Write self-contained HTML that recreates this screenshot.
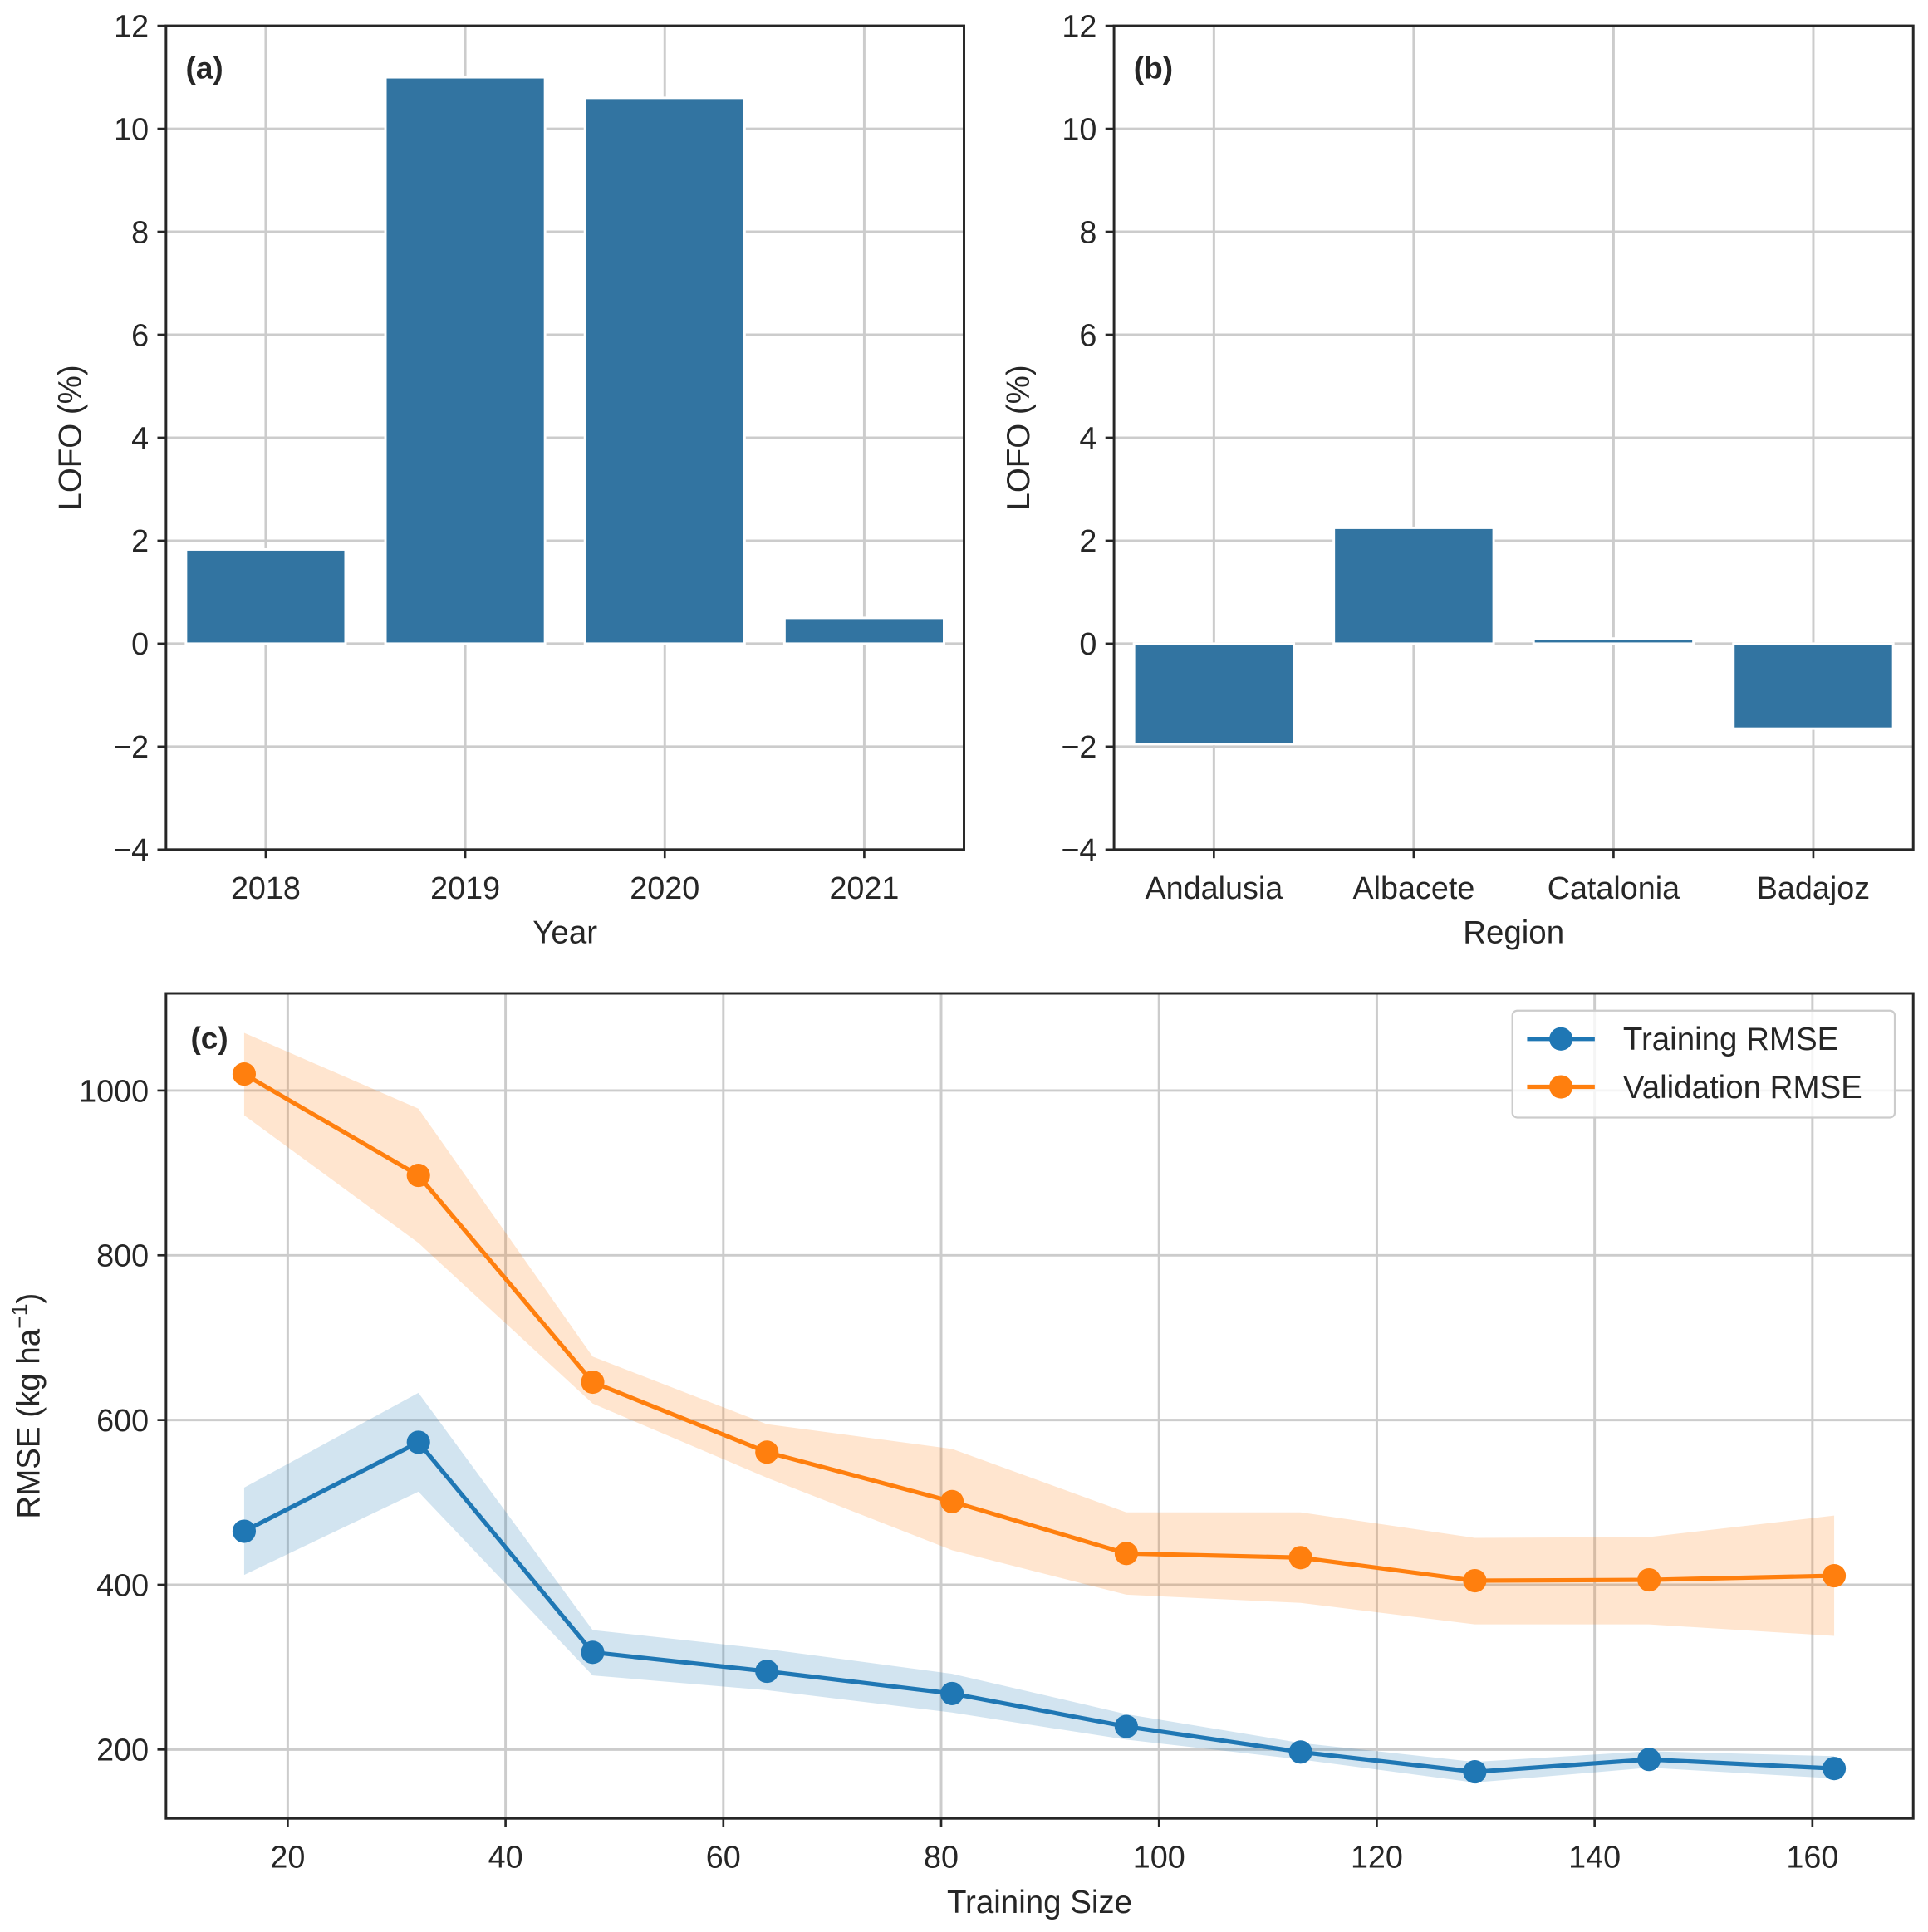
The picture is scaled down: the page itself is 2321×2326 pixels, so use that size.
<!DOCTYPE html>
<html><head><meta charset="utf-8"><style>
html,body{margin:0;padding:0;background:#fff}
svg{display:block;font-family:"Liberation Sans",sans-serif}
</style></head><body>
<svg id="fig0" width="2321" height="2326" viewBox="0 0 1568 1571.4" xmlns="http://www.w3.org/2000/svg"><g id="fig" transform="translate(0,2)"></g></svg>
<script>
const yearCats=["2018","2019","2020","2021"];
const yearVals=[1.83,11.0,10.6,0.5];
const regionCats=["Andalusia","Albacete","Catalonia","Badajoz"];
const regionVals=[-1.95,2.25,0.1,-1.65];
const lofoTicks=[-4,-2,0,2,4,6,8,10,12];
const sizes=[16,32,48,64,81,97,113,129,145,162];
const trainRmse=[465,573,318,295,268,228,197,173,188,177];
const trainHi=[518,633,345,322,292,243,208,185,198,192];
const trainLo=[412,513,290,272,245,212,188,160,178,165];
const valRmse=[1020,897,646,561,501,438,433,405,406,411];
const valHi=[1070,978,677,595,565,488,488,457,458,484];
const valLo=[970,815,620,530,442,388,378,352,352,338];
const xTicksC=[20,40,60,80,100,120,140,160];
const yTicksC=[200,400,600,800,1000];

const svg=document.getElementById('fig');
const NS="http://www.w3.org/2000/svg";
const TF=25.5;
function mk(tag,attrs,parent){const e=document.createElementNS(NS,tag);for(const k in attrs)e.setAttribute(k,attrs[k]);(parent||svg).appendChild(e);return e;}
function txt(s,attrs,parent){const e=mk('text',attrs,parent);e.textContent=s;return e;}

function barPanel(x0,x1,cats,vals,letter,xlabel,name){
  const g=mk('g',{});
  
  
  const y0=19,y1=689;
  const ys=v=>y0+(12-v)/16*(y1-y0);
  const step=(x1-x0)/4;
  const xs=i=>x0+step*(i+0.5);
  lofoTicks.forEach(t=>{
    const gl=mk('line',{x1:x0,x2:x1,y1:ys(t),y2:ys(t),stroke:'#cccccc','stroke-width':2},g);
    
    
    mk('line',{x1:x0-7,x2:x0,y1:ys(t),y2:ys(t),stroke:'#262626','stroke-width':1.8},g);
    const tl=txt((t<0?'\u2212'+(-t):String(t)),{x:x0-14,y:ys(t)+9,'font-size':TF,'text-anchor':'end',fill:'#262626'},g);
    
    
  });
  cats.forEach((c,i)=>{
    const gl=mk('line',{x1:xs(i),x2:xs(i),y1:y0,y2:y1,stroke:'#cccccc','stroke-width':2},g);
    
    
  });
  cats.forEach((c,i)=>{
    const bw=step*0.8;
    const top=ys(Math.max(vals[i],0)),bot=ys(Math.min(vals[i],0));
    const b=mk('rect',{x:xs(i)-bw/2,y:top,width:bw,height:Math.max(bot-top,0.5),fill:'#3274a1',stroke:'#fff','stroke-width':2},g);
    
    
    mk('line',{x1:xs(i),x2:xs(i),y1:y1,y2:y1+7,stroke:'#262626','stroke-width':1.8},g);
    const tl=txt(c,{x:xs(i),y:y1+40,'font-size':TF,'text-anchor':'middle',fill:'#262626'},g);
    
    
  });
  const fr=mk('rect',{x:x0,y:y0,width:x1-x0,height:y1-y0,fill:'none',stroke:'#262626','stroke-width':2},g);
  
  
  const pl=txt(letter,{x:x0+16,y:y0+43,'font-size':25,'font-weight':'bold',fill:'#262626'},g);
  
  
  const xl=txt(xlabel,{x:(x0+x1)/2,y:y1+76,'font-size':26,'text-anchor':'middle',fill:'#262626'},g);
  
  
  const yl=txt('LOFO (%)',{x:0,y:0,'font-size':26,'text-anchor':'middle',fill:'#262626',transform:`translate(${x0-69},${(y0+y1)/2}) rotate(-90)`},g);
  
  
}
barPanel(135,784,yearCats,yearVals,'(a)','Year','panel-a-year');
barPanel(906,1556,regionCats,regionVals,'(b)','Region','panel-b-region');

const gc=mk('g',{});


const cx0=135,cx1=1556,cy0=806,cy1=1477;
const xc=v=>234+(v-20)*(1474-234)/140;
const yc=v=>1421-(v-200)*(1421-885)/800;
yTicksC.forEach(t=>{
  const gl=mk('line',{x1:cx0,x2:cx1,y1:yc(t),y2:yc(t),stroke:'#cccccc','stroke-width':2},gc);
  
  
  mk('line',{x1:cx0-7,x2:cx0,y1:yc(t),y2:yc(t),stroke:'#262626','stroke-width':1.8},gc);
  const tl=txt(String(t),{x:cx0-14,y:yc(t)+9,'font-size':TF,'text-anchor':'end',fill:'#262626'},gc);
  
  
});
xTicksC.forEach(t=>{
  const gl=mk('line',{x1:xc(t),x2:xc(t),y1:cy0,y2:cy1,stroke:'#cccccc','stroke-width':2},gc);
  
  
  mk('line',{x1:xc(t),x2:xc(t),y1:cy1,y2:cy1+7,stroke:'#262626','stroke-width':1.8},gc);
  const tl=txt(String(t),{x:xc(t),y:cy1+40,'font-size':TF,'text-anchor':'middle',fill:'#262626'},gc);
  
  
});
function band(hi,lo,color,name){
  let d='M'+sizes.map((s,i)=>xc(s)+','+yc(hi[i])).join('L');
  d+='L'+sizes.map((s,i)=>xc(s)+','+yc(lo[i])).reverse().join('L')+'Z';
  const p=mk('path',{d:d,fill:color,'fill-opacity':0.2,stroke:'none'},gc);
  
  
}
function series(vals,color,name){
  const p=mk('polyline',{points:sizes.map((s,i)=>xc(s)+','+yc(vals[i])).join(' '),fill:'none',stroke:color,'stroke-width':3.5},gc);
  
  
  sizes.forEach((s,i)=>{
    const c=mk('circle',{cx:xc(s),cy:yc(vals[i]),r:9.5,fill:color},gc);
    
    
  });
}
band(trainHi,trainLo,'#1f77b4','training-band');
band(valHi,valLo,'#ff7f0e','validation-band');
series(trainRmse,'#1f77b4','training-rmse');
series(valRmse,'#ff7f0e','validation-rmse');
const frc=mk('rect',{x:cx0,y:cy0,width:cx1-cx0,height:cy1-cy0,fill:'none',stroke:'#262626','stroke-width':2},gc);


const plc=txt('(c)',{x:cx0+20,y:cy0+45,'font-size':25,'font-weight':'bold',fill:'#262626'},gc);


const xlc=txt('Training Size',{x:(cx0+cx1)/2,y:cy1+77,'font-size':26,'text-anchor':'middle',fill:'#262626'},gc);


const ylc=mk('text',{x:0,y:0,'font-size':26,'text-anchor':'middle',fill:'#262626',transform:`translate(${cx0-103},${(cy0+cy1)/2}) rotate(-90)`},gc);


ylc.innerHTML='RMSE (kg ha<tspan dy="-10" font-size="18">\u22121</tspan><tspan dy="10">)</tspan>';
const lg=mk('g',{},gc);


mk('rect',{x:1230,y:820,width:311,height:87,rx:4,fill:'#fff','fill-opacity':0.8,stroke:'#cccccc','stroke-width':1.5},lg);
[['Training RMSE','#1f77b4',843],['Validation RMSE','#ff7f0e',882]].forEach(([l,c,y])=>{
  const e=mk('g',{},lg);
  
  
  mk('line',{x1:1242,x2:1297,y1:y,y2:y,stroke:c,'stroke-width':3.5},e);
  mk('circle',{cx:1269.5,cy:y,r:9.5,fill:c},e);
  txt(l,{x:1320,y:y+9,'font-size':26,fill:'#262626'},e);
});
</script>
</body></html>
